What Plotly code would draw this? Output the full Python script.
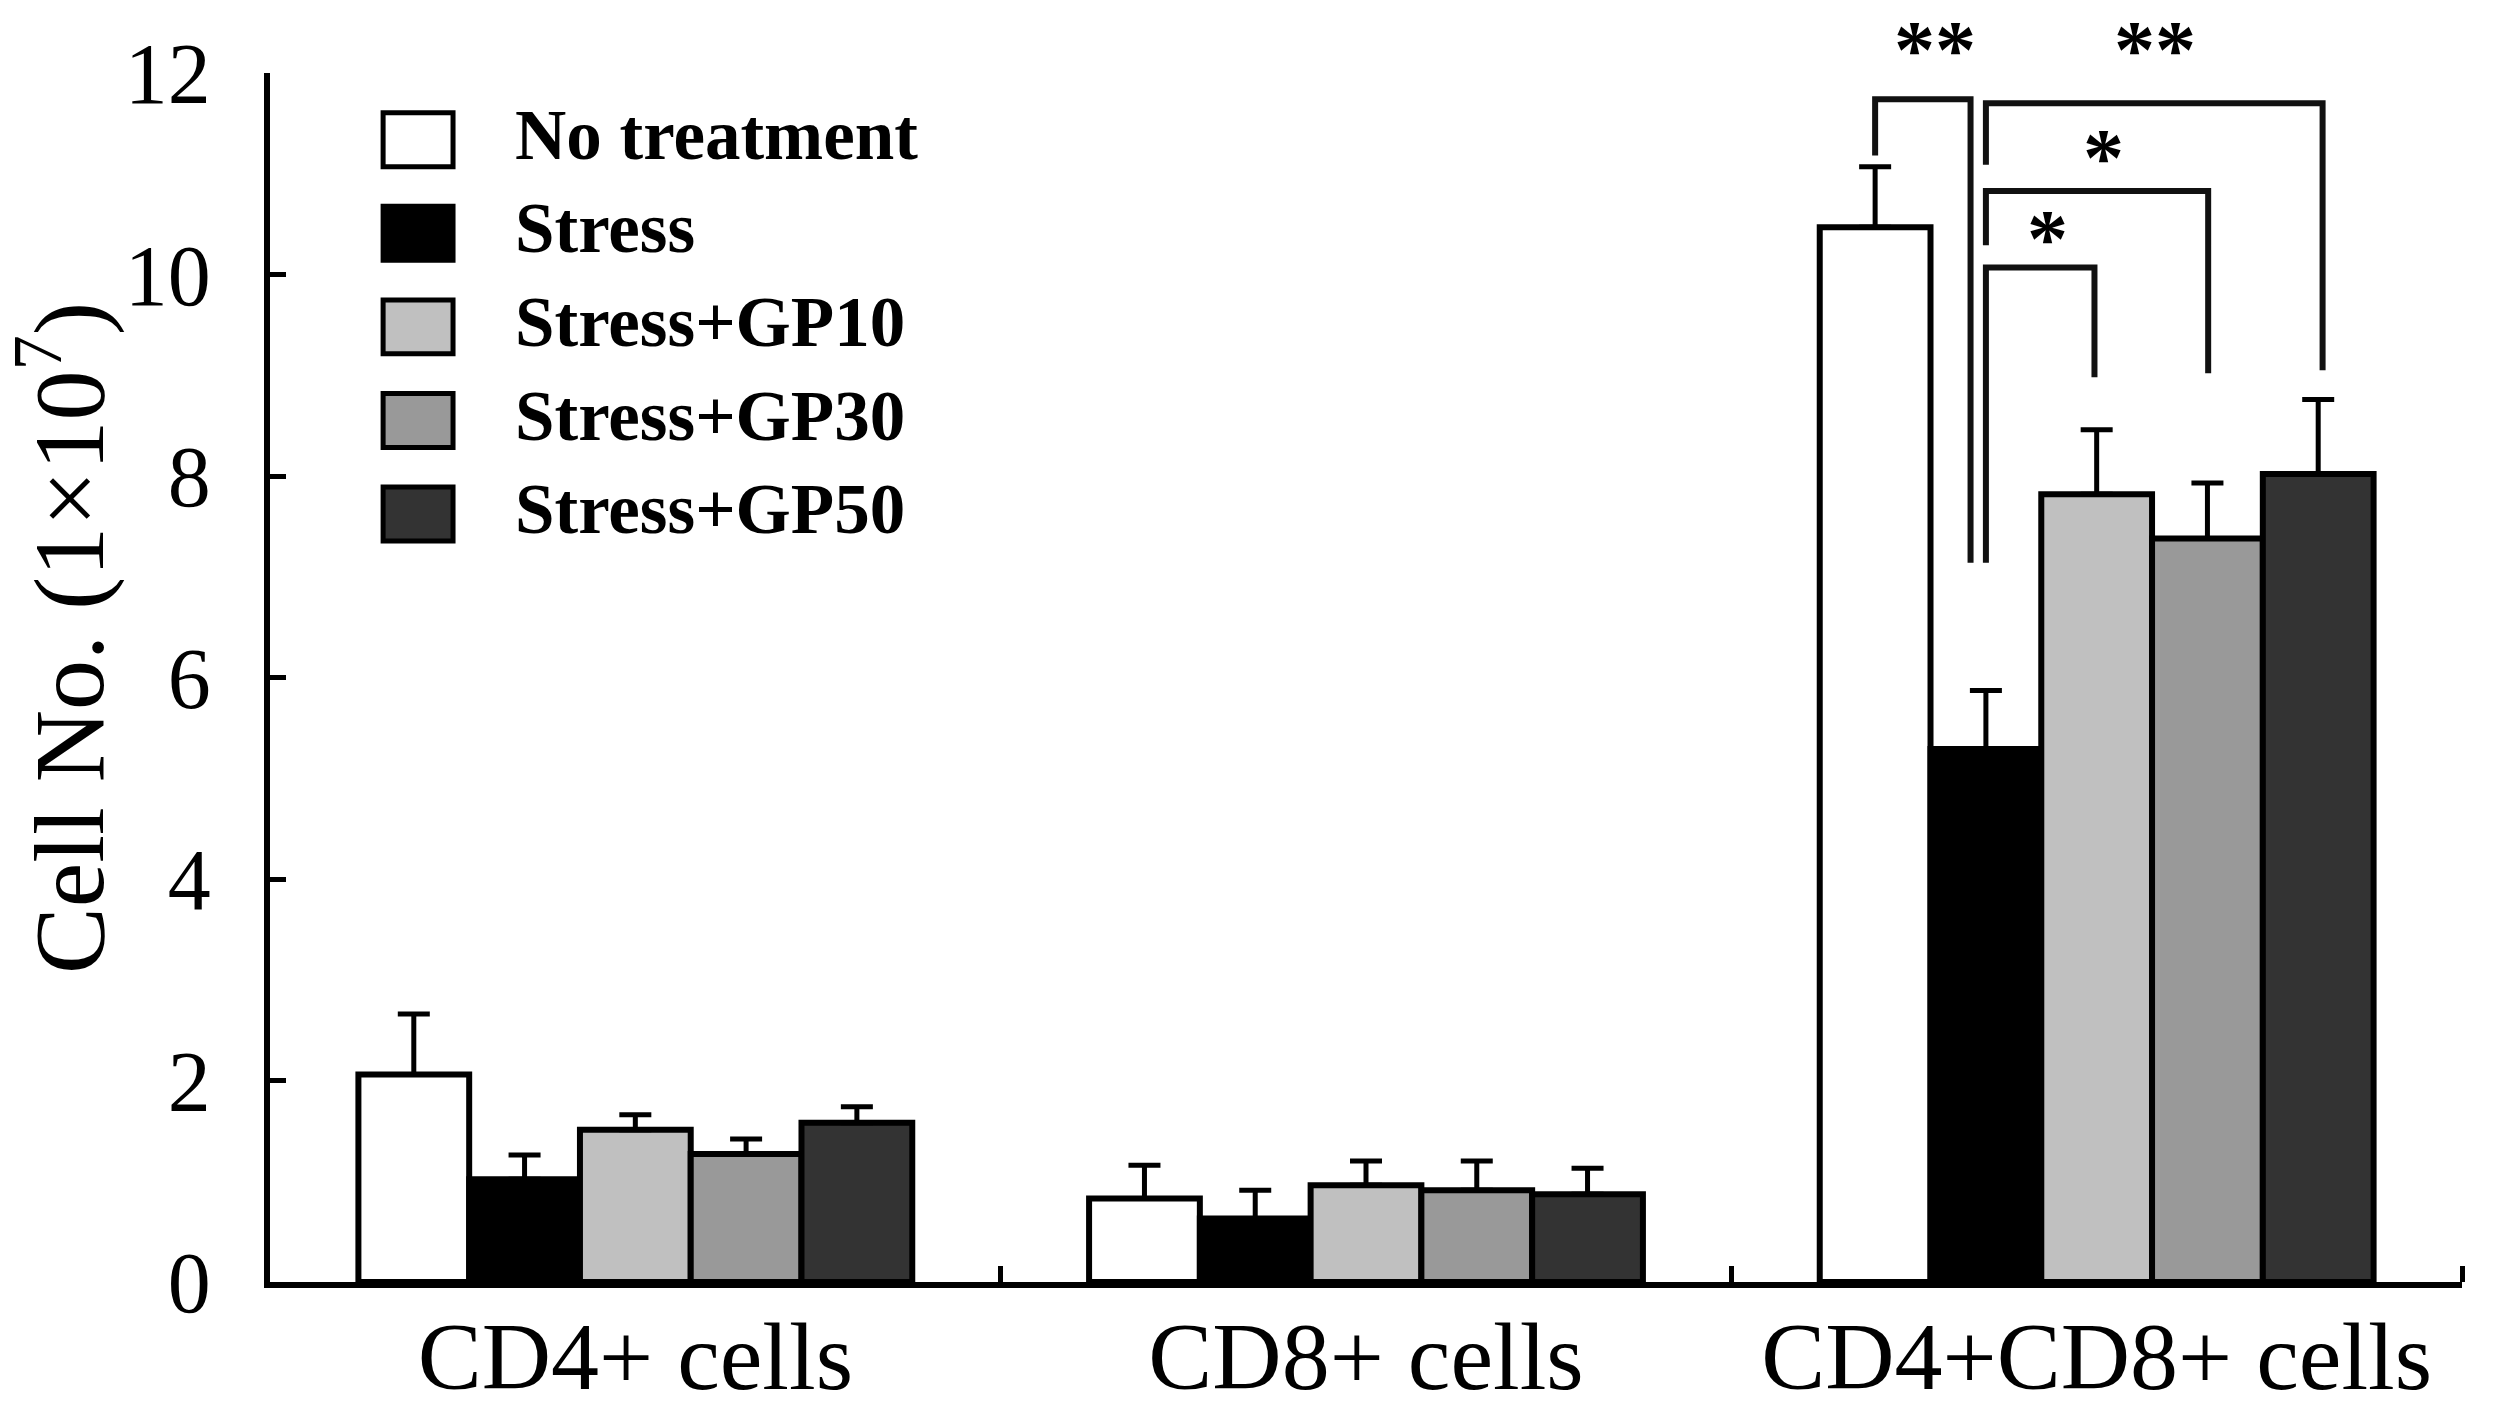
import plotly.graph_objects as go

# ---------------- data ----------------
categories = ["CD4+ cells", "CD8+ cells", "CD4+CD8+ cells"]
groups = ["No treatment", "Stress", "Stress+GP10", "Stress+GP30", "Stress+GP50"]

no_treatment = [2.06, 0.83, 10.47]
stress = [1.02, 0.63, 5.29]
stress_gp10 = [1.51, 0.96, 7.82]
stress_gp30 = [1.27, 0.91, 7.38]
stress_gp50 = [1.58, 0.87, 8.02]

err_no_treatment = [0.60, 0.33, 0.60]
err_stress = [0.24, 0.28, 0.58]
err_gp10 = [0.15, 0.24, 0.64]
err_gp30 = [0.15, 0.29, 0.55]
err_gp50 = [0.16, 0.26, 0.74]

y_ticks = [0, 2, 4, 6, 8, 10, 12]

# significance comparisons in the CD4+CD8+ group: (bar a, bar b, label)
comparisons = [(0, 1, "**"), (1, 4, "**"), (1, 3, "*"), (1, 2, "*")]

# ---------------- style ----------------
values = [no_treatment, stress, stress_gp10, stress_gp30, stress_gp50]
errors = [err_no_treatment, err_stress, err_gp10, err_gp30, err_gp50]
fills = ["#ffffff", "#000000", "#c0c0c0", "#999999", "#333333"]
SERIF = "Liberation Serif, Times New Roman, serif"
BARGAP = 0.242
N = len(groups)
BW = (1 - BARGAP) / N

fig = go.Figure()
for name, vals, errs, col in zip(groups, values, errors, fills):
    fig.add_trace(go.Bar(
        x=list(range(len(categories))), y=vals, name=name,
        marker=dict(color=col, line=dict(color="black", width=6)),
        error_y=dict(type="data", array=errs, arrayminus=[0] * len(errs),
                     symmetric=False, color="black", thickness=5, width=16),
        showlegend=False,
    ))


def bar_center(cat, i):
    return cat + (i - (N - 1) / 2) * BW


shapes = []
annotations = []

# significance brackets (layout geometry)
bracket_geom = {
    (0, 1): dict(dxa=0.0, dxb=-0.021, ya=11.18, top=11.74, yb=7.14),
    (1, 4): dict(dxa=0.0, dxb=0.006, ya=11.09, top=11.70, yb=9.05),
    (1, 3): dict(dxa=0.0, dxb=0.001, ya=10.29, top=10.83, yb=9.02),
    (1, 2): dict(dxa=0.0, dxb=-0.003, ya=7.14, top=10.07, yb=8.98),
}
# star label anchor (x in data units, y in data units, extra pixel shift)
star_pos = {
    (0, 1): (1.779, 12.0, 24),
    (1, 4): (2.080, 12.0, 24),
    (1, 3): (2.009, 11.24, -8),
    (1, 2): (1.933, 10.44, -8),
}
for a, b, label in comparisons:
    g = bracket_geom[(a, b)]
    xa = bar_center(2, a) + g["dxa"]
    xb = bar_center(2, b) + g["dxb"]
    shapes.append(dict(
        type="path", xref="x", yref="y",
        path=f"M {xa},{g['ya']} L {xa},{g['top']} L {xb},{g['top']} L {xb},{g['yb']}",
        line=dict(color="#111111", width=6), layer="above",
    ))
    sx, sy, shift = star_pos[(a, b)]
    annotations.append(dict(
        x=sx, y=sy, xref="x", yref="y", text=f"<b>{label}</b>", showarrow=False,
        xanchor="center", yanchor="middle", yshift=shift,
        font=dict(family=SERIF, size=82, color="black"),
    ))

# manual legend (large boxes as in the original)
leg_x0, leg_x1, leg_tx = 0.0516, 0.0835, 0.1109
leg_y0, leg_step, leg_h = 0.9448, 0.0774, 0.0223
for k, (name, col) in enumerate(zip(groups, fills)):
    yc = leg_y0 - k * leg_step
    shapes.append(dict(
        type="rect", xref="paper", yref="paper",
        x0=leg_x0, x1=leg_x1, y0=yc - leg_h, y1=yc + leg_h,
        fillcolor=col, line=dict(color="black", width=5),
    ))
    annotations.append(dict(
        x=leg_tx, y=yc + 0.004, xref="paper", yref="paper", text=f"<b>{name}</b>",
        showarrow=False, xanchor="left", yanchor="middle",
        font=dict(family=SERIF, size=71, color="black"),
    ))

# y axis title
annotations.append(dict(
    x=-0.0949, y=0.5327, xref="paper", yref="paper",
    text="Cell No. (1×10<sup>7</sup>)", showarrow=False, textangle=-90,
    xanchor="center", yanchor="middle",
    font=dict(family=SERIF, size=100, color="black"),
))

fig.update_layout(
    width=2495, height=1411,
    margin=dict(l=270, r=33, t=73, b=129),
    paper_bgcolor="white", plot_bgcolor="white",
    barmode="group", bargap=BARGAP, bargroupgap=0,
    shapes=shapes, annotations=annotations,
    font=dict(family=SERIF, color="black"),
    xaxis=dict(
        type="linear", range=[-0.5, 2.5], automargin=False,
        tickmode="array", tickvals=list(range(len(categories))), ticktext=categories,
        ticks="", showline=True, linecolor="black", linewidth=6,
        showgrid=False, zeroline=False, ticklabelstandoff=-14,
        tickfont=dict(family=SERIF, size=96, color="black"),
        minor=dict(tickmode="array", tickvals=[0.5, 1.5, 2.5], ticks="inside",
                   ticklen=16, tickwidth=5, tickcolor="black", showgrid=False),
    ),
    yaxis=dict(
        range=[0, 12], tickmode="array", tickvals=y_ticks, automargin=False,
        ticks="inside", ticklen=16, tickwidth=5, tickcolor="black",
        showline=True, linecolor="black", linewidth=6,
        showgrid=False, zeroline=False, ticklabelstandoff=36,
        tickfont=dict(family=SERIF, size=86, color="black"),
    ),
)

fig.write_html("out.html", config={"displayModeBar": False},
               post_script="document.body.style.margin='0';")
